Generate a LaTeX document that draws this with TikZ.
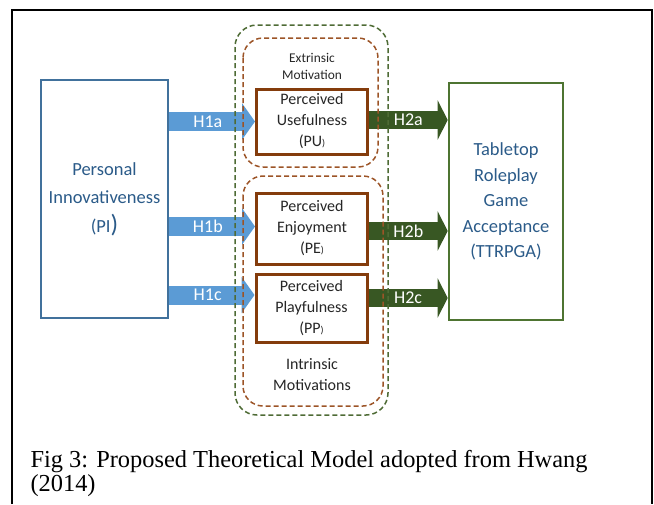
\documentclass[tikz,border=0pt]{standalone}
\usepackage{fontspec}
\setmainfont{Liberation Serif}
\newfontfamily\calibri{Carlito}
\usetikzlibrary{arrows.meta}

\definecolor{piblue}{HTML}{41719C}
\definecolor{textblue}{HTML}{2B5B89}
\definecolor{arrowblue}{HTML}{5B9BD5}
\definecolor{arrowgreen}{HTML}{385723}
\definecolor{ttgreen}{HTML}{4E7431}
\definecolor{boxbrown}{HTML}{843C0C}
\definecolor{dashbrown}{HTML}{9C5427}
\definecolor{dashgreen}{HTML}{4E6B35}

\begin{document}
\begin{tikzpicture}[x=1pt, y=-1pt, font=\calibri]
\tikzstyle{pibox} = [rectangle, draw=piblue, line width=2.6pt, fill=white,
                     minimum width=127pt, minimum height=238pt, align=center,
                     text=textblue, font=\calibri\fontsize{18.5}{28.5}\selectfont]
\tikzstyle{ttbox} = [rectangle, draw=ttgreen, line width=2.6pt, fill=white,
                     minimum width=114pt, minimum height=237pt, align=center,
                     text=textblue, font=\calibri\fontsize{18.5}{25.5}\selectfont]
\tikzstyle{perbox} = [rectangle, draw=boxbrown, line width=3pt, fill=white,
                      minimum width=111pt, align=center, inner sep=0pt,
                      text=black!85, font=\calibri\fontsize{16}{21}\selectfont]
\tikzstyle{grouptext} = [align=center, text=black!85]
\tikzstyle{bluearrow} = [draw=arrowblue, line width=19pt, -{Triangle[width=36pt, length=13pt]}]
\tikzstyle{greenarrow} = [draw=arrowgreen, line width=18pt, -{Triangle[width=39pt, length=10pt]}]
\tikzstyle{hlabel} = [text=white, font=\calibri\fontsize{18}{20}\selectfont]
\tikzstyle{greenframe} = [draw=dashgreen, line width=1.5pt, dash pattern=on 5pt off 3pt, rounded corners=22pt]
\tikzstyle{brownframe} = [draw=dashbrown, line width=1.5pt, dash pattern=on 5pt off 3pt, rounded corners=20pt]

\useasboundingbox (0,0) rectangle (654,504);
\draw[line width=1.6pt] (12,504) -- (12,10) -- (652,10) -- (652,504);

% constructs
\node[pibox] (pi) at (104.5,199) {Personal\\Innovativeness\\(PI{\fontsize{25}{25}\selectfont)}};
\node[perbox, minimum height=65pt] (pu) at (312,121.5) {Perceived\\Usefulness\\(PU{\fontsize{10}{10}\selectfont)}};
\node[perbox, minimum height=71pt] (pe) at (312,228.5) {Perceived\\Enjoyment\\(PE{\fontsize{10}{10}\selectfont)}};
\node[perbox, minimum height=68pt] (pp) at (311.5,308) {Perceived\\Playfulness\\(PP{\fontsize{10}{10}\selectfont)}};
\node[ttbox] (tt) at (506,201.5) {Tabletop\\Roleplay\\Game\\Acceptance\\(TTRPGA)};

% hypotheses
\draw[bluearrow] (pi.east |- pu.west) -- (pu.west) node[hlabel, pos=0.45] {H1a};
\draw[bluearrow] ([yshift=2pt]pi.east |- pe.west) -- ([yshift=2pt]pe.west) node[hlabel, pos=0.45] {H1b};
\draw[bluearrow] ([yshift=13pt]pi.east |- pp.west) -- ([yshift=13pt]pp.west) node[hlabel, pos=0.45] {H1c};
\draw[greenarrow] ([yshift=1.5pt]pu.east) -- ([yshift=1.5pt]pu.east -| tt.west) node[hlabel, midway] {H2a};
\draw[greenarrow] ([yshift=-2.5pt]pe.east) -- ([yshift=-2.5pt]pe.east -| tt.west) node[hlabel, midway] {H2b};
\draw[greenarrow] ([yshift=10pt]pp.east) -- ([yshift=10pt]pp.east -| tt.west) node[hlabel, midway] {H2c};

% motivation groups
\draw[greenframe] (235,25) rectangle (388,415);
\draw[brownframe] (243,38) rectangle (378,167);
\draw[brownframe] (243,176) rectangle (383,406);
\node[grouptext, font=\calibri\fontsize{13.4}{17}\selectfont] (extr) at (312,66) {Extrinsic\\Motivation};
\node[grouptext, font=\calibri\fontsize{16}{21.5}\selectfont] (intr) at (312,374.5) {Intrinsic\\Motivations};

\node[anchor=base west, align=left, font=\rmfamily\fontsize{24.4}{24}\selectfont] (caption) at (27,491.5)
  {Fig 3: Proposed Theoretical Model adopted from Hwang\\(2014)};
\end{tikzpicture}
\end{document}
